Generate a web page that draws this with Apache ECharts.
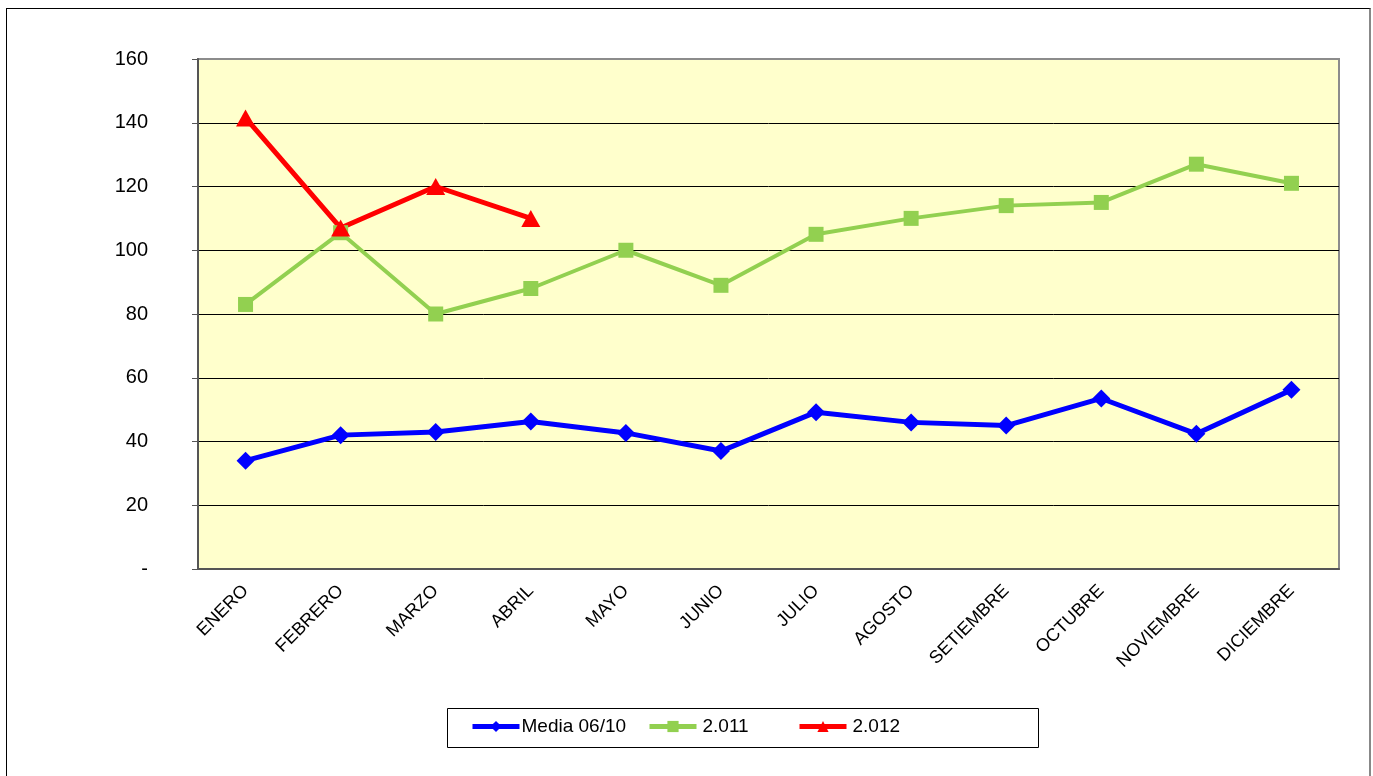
<!DOCTYPE html>
<html>
<head>
<meta charset="utf-8">
<script src="https://cdn.jsdelivr.net/npm/echarts@6/dist/echarts.min.js"></script>
<style>
  html, body { margin: 0; padding: 0; background: #fff; }
  #frame {
    position: absolute; left: 6px; top: 8px; width: 1362px; height: 800px;
    border-left: 1px solid #000; border-top: 1px solid #000; border-right: 2px solid #888;
  }
  #chart { position: absolute; left: 0; top: 0; width: 1373px; height: 776px; }
</style>
</head>
<body>
<div id="frame"></div>
<div id="chart"></div>
<script>
var meses = ["ENERO", "FEBRERO", "MARZO", "ABRIL", "MAYO", "JUNIO", "JULIO",
  "AGOSTO", "SETIEMBRE", "OCTUBRE", "NOVIEMBRE", "DICIEMBRE"];
var media0610 = [34, 42, 43, 46.3, 42.7, 37, 49.2, 46, 45, 53.5, 42.4, 56.2];
var anio2011 = [83, 105.5, 80, 88, 100, 89, 105, 110, 114, 115, 127, 121];
var anio2012 = [141.5, 107, 120, 110];

var font = "Liberation Sans, Arial, sans-serif";

var myChart = echarts.init(document.getElementById("chart"));
myChart.setOption({
  animation: false,
  textStyle: { fontFamily: font, color: "#000" },
  grid: {
    left: 198, top: 59, width: 1141, height: 510,
    show: true, backgroundColor: "#FFFFCC", borderColor: "#8c8c8c", borderWidth: 2
  },
  graphic: [
    // caja de la leyenda
    {
      type: "rect", left: 447, top: 708,
      shape: { width: 591, height: 39 },
      style: { fill: "#fff", stroke: "#000", lineWidth: 1 },
      z: -1
    }
  ],
  legend: [
    { data: ["Media 06/10"], left: 470, top: 717, gap: -3 },
    { data: ["2.011"], left: 647, top: 717, gap: 1 },
    { data: ["2.012"], left: 797, top: 717, gap: 1 }
  ].map(function (l) {
    l.itemWidth = 47;
    l.itemHeight = 14;
    l.itemGap = 0;
    l.padding = 0;
    l.lineStyle = { width: 5 };
    l.textStyle = { fontFamily: font, fontSize: 19, color: "#000", padding: [0, 0, 0, l.gap] };
    delete l.gap;
    return l;
  }),
  xAxis: {
    type: "category",
    data: meses,
    boundaryGap: true,
    axisLine: { lineStyle: { color: "#555", width: 2 } },
    axisTick: { length: 5, lineStyle: { color: "#555", width: 1 } },
    axisLabel: { rotate: 45, margin: 19, fontSize: 18, color: "#000", fontFamily: font, interval: 0 },
    splitLine: { show: false }
  },
  yAxis: {
    type: "value",
    min: 0, max: 160, interval: 20,
    axisLine: { show: true, lineStyle: { color: "#555", width: 2 } },
    axisTick: { show: true, length: 6, lineStyle: { color: "#555" } },
    axisLabel: {
      margin: 50, fontSize: 20, color: "#000", fontFamily: font,
      formatter: function (v) { return v === 0 ? "-" : v; }
    },
    splitLine: { show: true, showMinLine: false, showMaxLine: false, lineStyle: { color: "#000", width: 1 } }
  },
  series: [
    {
      name: "Media 06/10", type: "line", data: media0610,
      symbol: "diamond", symbolSize: 18,
      lineStyle: { color: "#0000FF", width: 5 },
      itemStyle: { color: "#0000FF" }
    },
    {
      name: "2.011", type: "line", data: anio2011,
      symbol: "rect", symbolSize: 15,
      lineStyle: { color: "#92D050", width: 4 },
      itemStyle: { color: "#92D050" }
    },
    {
      name: "2.012", type: "line", data: anio2012,
      symbol: "triangle", symbolSize: [19, 17],
      lineStyle: { color: "#FF0000", width: 5 },
      itemStyle: { color: "#FF0000" }
    }
  ]
});
</script>
</body>
</html>
